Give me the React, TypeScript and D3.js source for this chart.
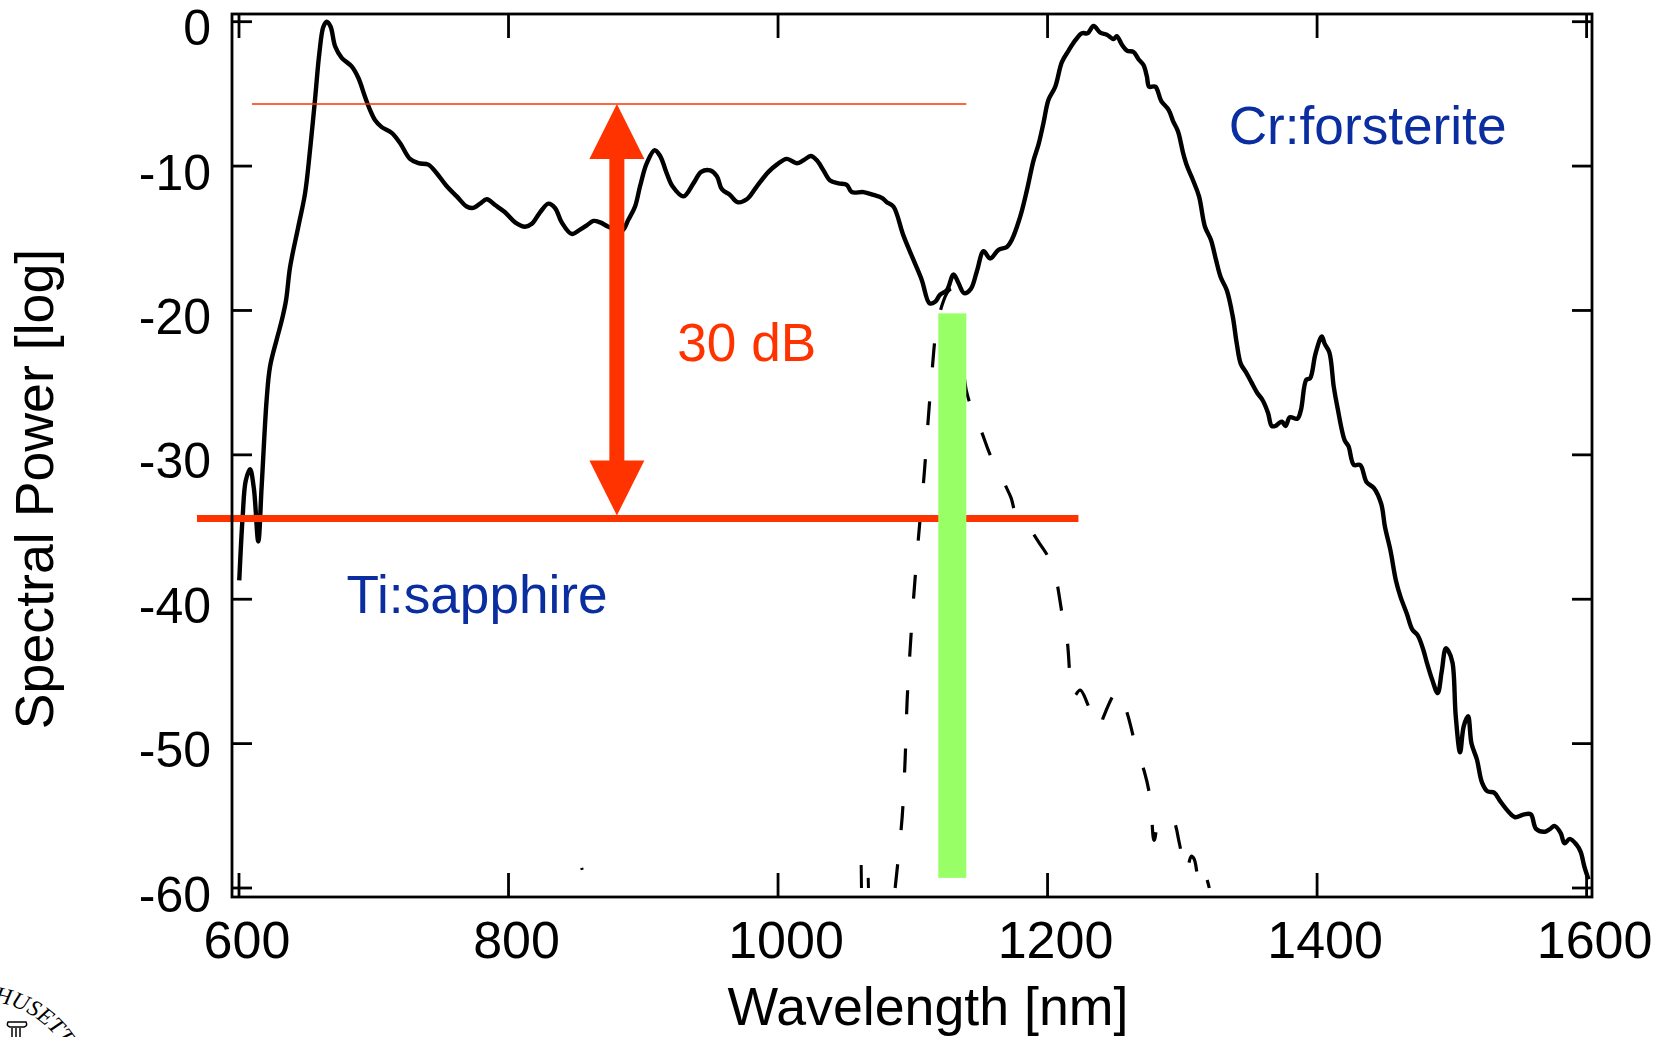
import React from 'react';
import * as d3 from 'd3';

const W = 1672;
const H = 1037;

// ---- data ----
const xTicks = [600, 800, 1000, 1200, 1400, 1600];
const yTicks = [0, -10, -20, -30, -40, -50, -60];

const xTitle = 'Wavelength [nm]';
const yTitle = 'Spectral Power [log]';

// combined Ti:sapphire + Cr:forsterite spectrum (nm, dB)
const solidSpectrum: [number, number][] = [
  [600.2, -38.7], [602.7, -34.3], [605, -31.8], [608.2, -31.0], [611, -32.3], [614.3, -36.0], [616.8, -32.2],
  [620.5, -26.2], [623, -23.9], [628, -22.0], [631.7, -20.7], [634.9, -19.3], [637.9, -17.0], [644, -14.2],
  [649, -11.9], [652.7, -8.9], [656.4, -5.4], [659.6, -2.2], [662.6, -0.35], [665.1, 0], [668, -0.35],
  [671.3, -1.7], [676.2, -2.5], [683.6, -3.1], [688.6, -3.9], [693.5, -5.2], [697.2, -6.1], [700.9, -6.8],
  [705.9, -7.3], [713.3, -7.7], [719.5, -8.4], [726.9, -9.5], [733.1, -9.8], [740.5, -9.9], [746.7, -10.5],
  [754.2, -11.4], [761.6, -12.1], [769, -12.8], [773.9, -12.9], [778.9, -12.6], [783.9, -12.3], [790, -12.7],
  [797.4, -13.2], [804.9, -13.9], [812.3, -14.2], [817.3, -14.0], [823.4, -13.2], [829.6, -12.6], [834.5, -12.9],
  [839.5, -13.9], [846.9, -14.7], [853.1, -14.4], [858.1, -14.1], [863, -13.8], [868, -13.9], [874.1, -14.2],
  [884, -14.5], [889, -13.7], [893.9, -12.8], [897.6, -11.4], [902.6, -9.8], [908.4, -8.9], [912.5, -9.3],
  [917.4, -10.5], [921.7, -11.4], [929.8, -12.1], [937.2, -11.2], [943, -10.4], [949.6, -10.3], [954.6, -10.7],
  [958.3, -11.6], [964.4, -12.0], [969.9, -12.5], [976.8, -12.3], [984.3, -11.4], [992.9, -10.4], [999.1, -9.9],
  [1006.5, -9.5], [1013.9, -9.8], [1018.9, -9.6], [1024.3, -9.3], [1028.8, -9.6], [1033.7, -10.3], [1038.6, -11.0],
  [1044.8, -11.2], [1051, -11.3], [1054.7, -11.8], [1063.4, -11.8], [1070.8, -12.0], [1077, -12.2], [1080.7, -12.5],
  [1085.6, -12.8], [1093, -14.8], [1100.5, -16.5], [1106.7, -17.9], [1112.4, -19.5], [1116.6, -19.4], [1120.3, -18.9],
  [1125.3, -18.6], [1130.2, -17.5], [1133.9, -18.1], [1138.1, -18.8], [1143.1, -18.5], [1147.5, -17.3], [1152.5, -15.9],
  [1157.4, -16.4], [1163.6, -15.8], [1169.8, -15.6], [1173.5, -15.1], [1179.7, -13.5], [1184.6, -11.7], [1189.6, -9.6],
  [1193.3, -8.5], [1197, -7.0], [1200.7, -5.4], [1205.7, -4.5], [1210.6, -2.8], [1215.6, -2.0], [1220.5, -1.3],
  [1225.5, -0.8], [1229.7, -0.8], [1234.1, -0.3], [1239.1, -0.76], [1244, -0.9], [1249, -1.2], [1251.4, -1.0],
  [1255.2, -1.6], [1258.9, -2.0], [1263.8, -2.1], [1267.5, -2.6], [1271.2, -3.0], [1273.7, -3.8], [1275.4, -4.5],
  [1280, -4.5], [1284.4, -5.5], [1289.8, -6.1], [1293.2, -6.9], [1296.8, -7.6], [1300.6, -9.1], [1303.5, -10.0],
  [1308, -11.0], [1312.4, -12.1], [1316.8, -14.2], [1321.2, -15.1], [1325, -16.5], [1328.5, -17.7], [1333, -18.6],
  [1337.4, -20.4], [1340.4, -22.3], [1343.4, -23.7], [1347.4, -24.3], [1351.4, -25.0], [1355.5, -25.7], [1359.5, -26.2],
  [1363.6, -27.1], [1366.3, -28.0], [1369, -28.0], [1371.8, -27.8], [1374, -27.7], [1376.6, -28.0], [1379.8, -27.4],
  [1385.3, -27.5], [1388, -26.9], [1392, -24.8], [1394.8, -24.7], [1398.8, -23.0], [1403.5, -21.8], [1405.6, -22.3],
  [1409.1, -22.9], [1412.4, -25.3], [1415.1, -26.7], [1420.5, -29.0], [1423.3, -29.4], [1427.3, -30.7], [1432, -30.7],
  [1436.8, -31.9], [1442.2, -32.3], [1447.6, -33.4], [1450.4, -35.0], [1454.4, -36.6], [1458.5, -38.7], [1461.8, -39.8],
  [1466.6, -41.0], [1470.7, -42.1], [1474.7, -42.5], [1478.8, -43.5], [1481.5, -44.4], [1485.5, -45.6], [1489.5, -46.5],
  [1492.5, -45.0], [1495.5, -43.4], [1497.5, -43.6], [1500.5, -44.4], [1502.9, -48.1], [1506.1, -50.6], [1508.8, -48.8],
  [1512, -48.1], [1514.6, -50.0], [1518.6, -51.1], [1522.4, -52.7], [1526.4, -53.3], [1531.4, -53.4], [1536, -54.0],
  [1541.9, -54.7], [1546.9, -55.1], [1553.6, -54.9], [1558.6, -54.9], [1562.5, -55.9], [1569.1, -56.1], [1573, -55.9],
  [1576.1, -55.7], [1580.8, -56.2], [1583.6, -56.9], [1587.5, -56.6], [1592.5, -57.0], [1595.6, -57.5], [1598.3, -58.5],
  [1601.4, -59.4],
];

// filtered (dashed) spectrum (nm, dB)
const dashedSpectrum: [number, number][] = [
  [1086.9, -60], [1092.1, -55.1], [1094.3, -51.1], [1095.8, -47.0], [1098, -43.5], [1101, -39.4], [1104.7, -35.2],
  [1108.4, -31.4], [1111.4, -27.6], [1114.4, -24.1], [1117.3, -21.4], [1121.8, -19.6], [1126, -18.7], [1129.2, -18.5],
  [1132.5, -19.0], [1135.2, -21.0], [1139.6, -25.5], [1146.3, -27.4], [1151, -28.4], [1157.4, -30.0], [1168.6, -32.1],
  [1173, -33.0], [1176, -34.0], [1181.2, -34.7], [1185.6, -35.0], [1194.5, -36.2], [1201.9, -37.3], [1205.7, -38.3],
  [1210.8, -41.0], [1214.5, -42.8], [1217.5, -46.3], [1219, -46.8], [1224.2, -46.3], [1230.9, -47.5], [1239.1, -48.9],
  [1241.3, -48.2], [1252.4, -46.3], [1259.1, -47.9], [1265.8, -50.3], [1271.7, -51.9], [1276.2, -53.8], [1279.1, -56.7],
  [1282.9, -55.4], [1291.8, -55.1], [1294.7, -55.6], [1297.8, -56.9], [1302.9, -58.9], [1306.6, -57.8], [1308.8, -58.0],
  [1313.3, -60], [1317, -59.2], [1320, -60],
];

const noiseFragments: [number, number][][] = [
  [[1061.7, -58.4], [1061.9, -60]],
  [[1066.9, -59.3], [1067.1, -60]],
  [[854.3, -58.6], [854.7, -58.75]],
];

// 30 dB annotation levels
const upperLevel = -5.7;
const upperSpan = [609.6, 1139.7];
const lowerLevel = -34.4;
const lowerSpan = [568.8, 1222.9];
const arrowAt = 880.4;
const arrowEnds = [-5.7, -34.2];

// filter band (green)
const bandNm = [1118.9, 1139.7];
const bandDb = [-20.2, -59.3];

const labelTexts = ['Cr:forsterite', 'Ti:sapphire', '30 dB'];
const labelNm = [1334.4, 679.8, 925.2];
const labelDb = [-8.47, -40.93, -23.49];
const labelColors = ['#0a2ea0', '#0a2ea0', '#ff3300'];

// ---- layout ----
const FRAME = { left: 232, top: 14, right: 1592, bottom: 897 };
const RED = '#ff3300';
const GREEN = '#99ff66';
const FONT = '"Liberation Sans", Arial, Helvetica, sans-serif';

export default function App() {
  const x = d3.scaleLinear().domain([600, 1600]).range([239, 1586.6]);
  const y = d3.scaleLinear().domain([0, -60]).range([21.7, 888]);

  const smooth = d3
    .line<[number, number]>()
    .x((d) => x(d[0]))
    .y((d) => y(d[1]))
    .curve(d3.curveCatmullRom.alpha(0.5));
  const straight = d3
    .line<[number, number]>()
    .x((d) => x(d[0]))
    .y((d) => y(d[1]));

  const ax = x(arrowAt);
  const yTop = y(arrowEnds[0]);
  const yBot = y(arrowEnds[1]);
  const headL = 55;
  const headW = 27.5;
  const shaftW = 15;

  // seal fragment arc
  const cx = -20, cy = 1100, r = 99;
  const a0 = (8 * Math.PI) / 180, a1 = (88 * Math.PI) / 180;
  const arcPath = `M ${cx + r * Math.sin(a0)} ${cy - r * Math.cos(a0)} A ${r} ${r} 0 0 1 ${cx + r * Math.sin(a1)} ${cy - r * Math.cos(a1)}`;

  return (
    <svg
      width={W}
      height={H}
      style={{ position: 'absolute', left: 0, top: 0, background: '#fff' }}
      fontFamily={FONT}
    >
      <rect x={0} y={0} width={W} height={H} fill="#fff" />

      {/* curves */}
      <path d={smooth(dashedSpectrum) || ''} fill="none" stroke="#000" strokeWidth={3.2} strokeDasharray="24 34" />
      {noiseFragments.map((f, i) => (
        <path key={i} d={straight(f) || ''} fill="none" stroke="#000" strokeWidth={3} />
      ))}
      <path d={smooth(solidSpectrum) || ''} fill="none" stroke="#000" strokeWidth={4.4} strokeLinejoin="round" />

      {/* 30 dB annotation */}
      <line x1={x(upperSpan[0])} x2={x(upperSpan[1])} y1={y(upperLevel)} y2={y(upperLevel)} stroke={RED} strokeWidth={1.6} />
      <line x1={x(lowerSpan[0])} x2={x(lowerSpan[1])} y1={y(lowerLevel)} y2={y(lowerLevel)} stroke={RED} strokeWidth={7} />
      <rect x={ax - shaftW / 2} y={yTop + headL - 1} width={shaftW} height={yBot - yTop - 2 * headL + 2} fill={RED} />
      <polygon points={`${ax},${yTop} ${ax - headW},${yTop + headL} ${ax + headW},${yTop + headL}`} fill={RED} />
      <polygon points={`${ax},${yBot} ${ax - headW},${yBot - headL} ${ax + headW},${yBot - headL}`} fill={RED} />

      {/* filter band */}
      <rect x={x(bandNm[0])} y={y(bandDb[0])} width={x(bandNm[1]) - x(bandNm[0])} height={y(bandDb[1]) - y(bandDb[0])} fill={GREEN} />

      {/* frame */}
      <rect
        x={FRAME.left}
        y={FRAME.top}
        width={FRAME.right - FRAME.left}
        height={FRAME.bottom - FRAME.top}
        fill="none"
        stroke="#000"
        strokeWidth={2.8}
      />
      {xTicks.map((t) => (
        <g key={'xt' + t}>
          <line x1={x(t)} x2={x(t)} y1={FRAME.bottom} y2={FRAME.bottom - 24} stroke="#000" strokeWidth={2.8} />
          <line x1={x(t)} x2={x(t)} y1={FRAME.top} y2={FRAME.top + 24} stroke="#000" strokeWidth={2.8} />
          <text x={x(t) + 8} y={958} textAnchor="middle" fontSize={52} fill="#000">
            {t}
          </text>
        </g>
      ))}
      {yTicks.map((t) => (
        <g key={'yt' + t}>
          <line x1={FRAME.left} x2={FRAME.left + 20} y1={y(t)} y2={y(t)} stroke="#000" strokeWidth={2.8} />
          <line x1={FRAME.right} x2={FRAME.right - 20} y1={y(t)} y2={y(t)} stroke="#000" strokeWidth={2.8} />
          <text x={211} y={y(t) + 23.5} textAnchor="end" fontSize={50} fill="#000">
            {t}
          </text>
        </g>
      ))}

      {/* axis titles */}
      <text x={928} y={1025} textAnchor="middle" fontSize={53.7} fill="#000">
        {xTitle}
      </text>
      <text transform="translate(53,489) rotate(-90)" textAnchor="middle" fontSize={53.7} fill="#000">
        {yTitle}
      </text>

      {/* labels */}
      {labelTexts.map((t, i) => (
        <text key={t} x={x(labelNm[i])} y={y(labelDb[i])} fontSize={53.2} fill={labelColors[i]}>
          {t}
        </text>
      ))}

      {/* seal fragment bottom-left */}
      <defs>
        <path id="sealArc" d={arcPath} />
      </defs>
      <text fontSize={23} fontStyle="italic" fontFamily='"Liberation Serif", serif' fill="#000">
        <textPath href="#sealArc">HUSETTS</textPath>
      </text>
      <g stroke="#000" strokeWidth={1.5} fill="none">
        <path d="M8 1022 Q6 1026 10 1027 L24 1027 Q28 1026 26 1022 Z" />
        <line x1={12} x2={12} y1={1028} y2={1037} />
        <line x1={16} x2={16} y1={1028} y2={1037} />
        <line x1={20} x2={20} y1={1028} y2={1037} />
      </g>
    </svg>
  );
}
